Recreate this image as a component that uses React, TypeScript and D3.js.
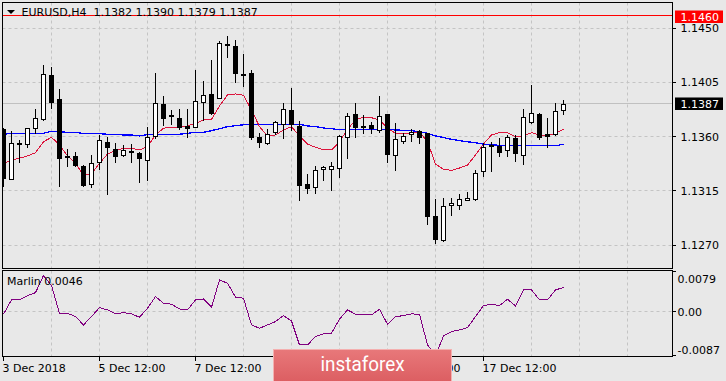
import React from 'react';
import * as d3 from 'd3';

const W = 726;
const H = 381;

// OHLC per H4 bar
const opens = [1.13664, 1.13248, 1.13545, 1.13537, 1.13674, 1.13744, 1.14110, 1.13912, 1.13440, 1.13440,
  1.13358, 1.13206, 1.13388, 1.13554, 1.13498, 1.13443, 1.13482, 1.13463, 1.13407, 1.13606,
  1.13870, 1.13775, 1.13752, 1.13689, 1.13678, 1.13885, 1.13953, 1.13918, 1.14370, 1.14350,
  1.14120, 1.14124, 1.13595, 1.13545, 1.13636, 1.13705, 1.13821, 1.13691, 1.13210, 1.13181,
  1.13331, 1.13331, 1.13339, 1.13595, 1.13785, 1.13690, 1.13697, 1.13655, 1.13788, 1.13443,
  1.13567, 1.13622, 1.13647, 1.13628, 1.12938, 1.12740, 1.13033, 1.13035, 1.13073, 1.13082,
  1.13316, 1.13520, 1.13521, 1.13488, 1.13587, 1.13443, 1.13723, 1.13788, 1.13620, 1.13622,
  1.13820];
const highs = [1.13670, 1.13647, 1.13573, 1.13672, 1.13829, 1.14193, 1.14180, 1.13995, 1.13498, 1.13473,
  1.13362, 1.13446, 1.13614, 1.13595, 1.13545, 1.13531, 1.13540, 1.13470, 1.13683, 1.14124,
  1.13937, 1.13821, 1.13829, 1.13829, 1.14152, 1.14061, 1.14234, 1.14392, 1.14433, 1.14400,
  1.14282, 1.14152, 1.13628, 1.13664, 1.13732, 1.13881, 1.14000, 1.13732, 1.13291, 1.13352,
  1.13352, 1.13393, 1.13610, 1.13794, 1.13876, 1.13780, 1.13724, 1.13937, 1.13790, 1.13716,
  1.13628, 1.13664, 1.13655, 1.13630, 1.13085, 1.13090, 1.13090, 1.13126, 1.13137, 1.13325,
  1.13550, 1.13556, 1.13587, 1.13614, 1.13614, 1.13827, 1.14028, 1.13794, 1.13757, 1.13876,
  1.13900];
const lows = [1.13193, 1.13245, 1.13393, 1.13510, 1.13633, 1.13740, 1.13840, 1.13186, 1.13352, 1.13352,
  1.13192, 1.13178, 1.13333, 1.13124, 1.13393, 1.13440, 1.13393, 1.13220, 1.13236, 1.13587,
  1.13697, 1.13703, 1.13664, 1.13600, 1.13678, 1.13738, 1.13790, 1.13918, 1.14257, 1.14055,
  1.14022, 1.13578, 1.13517, 1.13540, 1.13622, 1.13587, 1.13655, 1.13071, 1.13132, 1.13132,
  1.13236, 1.13153, 1.13261, 1.13426, 1.13595, 1.13628, 1.13633, 1.13641, 1.13393, 1.13319,
  1.13550, 1.13567, 1.13550, 1.12878, 1.12718, 1.12731, 1.12952, 1.13000, 1.13071, 1.13071,
  1.13275, 1.13311, 1.13440, 1.13440, 1.13401, 1.13374, 1.13712, 1.13578, 1.13510, 1.13614,
  1.13790];
const closes = [1.13259, 1.13545, 1.13540, 1.13669, 1.13752, 1.14116, 1.13890, 1.13426, 1.13430, 1.13366,
  1.13195, 1.13380, 1.13573, 1.13510, 1.13435, 1.13490, 1.13471, 1.13421, 1.13595, 1.13876,
  1.13752, 1.13770, 1.13683, 1.13670, 1.13895, 1.13942, 1.13794, 1.14373, 1.14360, 1.14124,
  1.14110, 1.13600, 1.13554, 1.13622, 1.13719, 1.13829, 1.13705, 1.13195, 1.13173, 1.13325,
  1.13344, 1.13352, 1.13606, 1.13774, 1.13683, 1.13680, 1.13670, 1.13774, 1.13457, 1.13578,
  1.13606, 1.13639, 1.13600, 1.12938, 1.12751, 1.13027, 1.13050, 1.13082, 1.13090, 1.13297,
  1.13512, 1.13530, 1.13476, 1.13595, 1.13463, 1.13765, 1.13794, 1.13600, 1.13606, 1.13815,
  1.13870];

// red (fast) moving average
const maFast = [1.13378, 1.13406, 1.13420, 1.13439, 1.13466, 1.13557, 1.13594, 1.13530, 1.13439, 1.13378,
  1.13281, 1.13290, 1.13378, 1.13455, 1.13483, 1.13503, 1.13503, 1.13489, 1.13516, 1.13613,
  1.13669, 1.13677, 1.13675, 1.13688, 1.13710, 1.13737, 1.13743, 1.13853, 1.13945, 1.13953,
  1.13942, 1.13820, 1.13682, 1.13605, 1.13613, 1.13654, 1.13682, 1.13605, 1.13538, 1.13511,
  1.13489, 1.13489, 1.13557, 1.13659, 1.13737, 1.13760, 1.13756, 1.13737, 1.13669, 1.13627,
  1.13621, 1.13632, 1.13640, 1.13557, 1.13372, 1.13329, 1.13319, 1.13339, 1.13364, 1.13447,
  1.13538, 1.13613, 1.13632, 1.13632, 1.13599, 1.13605, 1.13632, 1.13613, 1.13605, 1.13627,
  1.13660];
// blue (slow) moving average
const maSlow = [1.13619, 1.13627, 1.13627, 1.13627, 1.13627, 1.13627, 1.13644, 1.13640, 1.13635, 1.13635,
  1.13624, 1.13624, 1.13624, 1.13619, 1.13619, 1.13613, 1.13613, 1.13605, 1.13616, 1.13616,
  1.13616, 1.13616, 1.13619, 1.13627, 1.13635, 1.13635, 1.13649, 1.13665, 1.13682, 1.13690,
  1.13698, 1.13698, 1.13698, 1.13698, 1.13698, 1.13698, 1.13702, 1.13702, 1.13688, 1.13682,
  1.13671, 1.13665, 1.13657, 1.13657, 1.13660, 1.13660, 1.13660, 1.13660, 1.13660, 1.13654,
  1.13652, 1.13649, 1.13640, 1.13627, 1.13605, 1.13592, 1.13577, 1.13566, 1.13557, 1.13549,
  1.13538, 1.13530, 1.13528, 1.13528, 1.13528, 1.13528, 1.13528, 1.13524, 1.13524, 1.13524,
  1.13536];
// Marlin oscillator
const marlin = [-0.00054, 0.00221, 0.00221, 0.00304, 0.00361, 0.00688, 0.00496, -0.00035, -0.00035, -0.00100,
  -0.00259, -0.00100, 0.00073, 0.00029, -0.00048, -0.00023, -0.00048, -0.00111, 0.00061, 0.00284,
  0.00158, 0.00138, 0.00048, 0.00029, 0.00221, 0.00240, 0.00081, 0.00605, 0.00542, 0.00273,
  0.00254, -0.00259, -0.00323, -0.00259, -0.00196, -0.00081, -0.00183, -0.00644, -0.00644, -0.00484,
  -0.00432, -0.00419, -0.00150, 0.00029, -0.00052, -0.00054, -0.00067, 0.00042, -0.00246, -0.00100,
  -0.00081, -0.00048, -0.00054, -0.00644, -0.00850, -0.00471, -0.00388, -0.00355, -0.00311, -0.00100,
  0.00111, 0.00138, 0.00111, 0.00234, 0.00106, 0.00413, 0.00413, 0.00221, 0.00221, 0.00413,
  0.00460];

const priceTicks = [1.1450, 1.1405, 1.1360, 1.1315, 1.1270];
const marlinTickValues = [0.0079, 0, -0.0087];
const marlinTickLabels = ['0.0079', '0.00', '-0.0087'];
const dateLabels = ['3 Dec 2018', '5 Dec 12:00', '7 Dec 12:00', '11 Dec 12:00', '13 Dec 12:00', '17 Dec 12:00'];
const dateLabelBars = [0, 12, 24, 36, 48, 60];
const gridBars = [6, 12, 18, 24, 30, 36, 42, 48, 54, 60, 66, 72, 78];
const titleText = 'EURUSD,H4  1.1382 1.1390 1.1379 1.1387';
const levelLine = 1.1460;
const lastPrice = 1.1387;
const indicatorName = 'Marlin 0.0046';
const watermark = 'instaforex';

const FONT = "'DejaVu Sans', Tahoma, sans-serif";
const BG = '#e8e8e8';
const GRID = '#c4c4c4';

export default function App() {
  React.useEffect(() => {
    document.body.style.margin = '0';
  }, []);

  const main = { left: 2.5, right: 672.5, top: 2.5, bottom: 268.5 };
  const ind = { left: 2.5, right: 672.5, top: 270.5, bottom: 356.5 };

  const x = d3.scaleLinear().domain([0, 1]).range([3.5, 11.5]);
  const y = d3.scaleLinear().domain([1.1270, 1.1450]).range([245.1, 28.0]);
  const yi = d3.scaleLinear().domain([-0.0087, 0.0079]).range([356.7, 270.3]);

  const idx = d3.range(opens.length);
  const fastLine = d3.line<number>().x((i) => x(i)).y((i) => y(maFast[i]));
  const slowLine = d3.line<number>().x((i) => x(i)).y((i) => y(maSlow[i]));
  const marlinLine = d3.line<number>().x((i) => x(i)).y((i) => yi(marlin[i]));

  const crisp = (v: number) => Math.round(v - 0.5) + 0.5;

  return (
    <svg width={W} height={H} style={{ display: 'block', position: 'absolute', left: 0, top: 0 }}
      fontFamily={FONT} fontSize={11}>
      <defs>
        <clipPath id="clipMain">
          <rect x={main.left + 0.5} y={main.top + 0.5} width={main.right - main.left - 1} height={main.bottom - main.top - 1} />
        </clipPath>
        <clipPath id="clipInd">
          <rect x={ind.left + 0.5} y={ind.top + 0.5} width={ind.right - ind.left - 1} height={ind.bottom - ind.top - 1} />
        </clipPath>
        <linearGradient id="wmGrad" x1="0" y1="0" x2="0" y2="1">
          <stop offset="0" stopColor="#e8787a" />
          <stop offset="1" stopColor="#d9585c" />
        </linearGradient>
      </defs>
      <rect x={0} y={0} width={W} height={H} fill={BG} />

      {/* main panel grid */}
      <g clipPath="url(#clipMain)">
        {priceTicks.map((p) => (
          <line key={'hg' + p} x1={main.left} x2={main.right} y1={crisp(y(p))} y2={crisp(y(p))}
            stroke={GRID} strokeDasharray="3,3" />
        ))}
        {gridBars.map((b) => (
          <line key={'vg' + b} x1={crisp(x(b))} x2={crisp(x(b))} y1={main.top} y2={main.bottom}
            stroke={GRID} strokeDasharray="3,3" />
        ))}
        <line x1={main.left} x2={main.right} y1={crisp(y(lastPrice))} y2={crisp(y(lastPrice))} stroke="#c0c0c0" />
        <path d={slowLine(idx) || ''} fill="none" stroke="#0000ff" strokeWidth={1.3} shapeRendering="crispEdges" />
        <path d={fastLine(idx) || ''} fill="none" stroke="#dc143c" strokeWidth={1} shapeRendering="crispEdges" />
        {idx.map((i) => {
          const o = opens[i], c = closes[i];
          const cx = x(i);
          const top = Math.round(y(Math.max(o, c)));
          const bot = Math.round(y(Math.min(o, c)));
          const bull = c >= o;
          return (
            <g key={'c' + i} shapeRendering="crispEdges">
              <line x1={cx} x2={cx} y1={Math.round(y(highs[i]))} y2={Math.round(y(lows[i])) + 1} stroke="#000" />
              <rect x={cx - 2} y={top + 0.5} width={4} height={Math.max(0, bot - top)}
                fill={bull ? '#ffffff' : '#000000'} stroke="#000" strokeWidth={1} />
            </g>
          );
        })}
        <line x1={main.left} x2={main.right} y1={crisp(y(levelLine))} y2={crisp(y(levelLine))} stroke="#ff0000" />
      </g>

      {/* title */}
      <path d="M7,10 L15,10 L11,14 Z" fill="#000" />
      <text x={21.5} y={16} fill="#000" style={{ whiteSpace: 'pre' }}>{titleText}</text>

      {/* indicator panel */}
      <g clipPath="url(#clipInd)">
        <line x1={ind.left} x2={ind.right} y1={crisp(yi(0))} y2={crisp(yi(0))} stroke={GRID} strokeDasharray="3,3" />
        {gridBars.map((b) => (
          <line key={'vgi' + b} x1={crisp(x(b))} x2={crisp(x(b))} y1={ind.top} y2={ind.bottom}
            stroke={GRID} strokeDasharray="3,3" />
        ))}
        <path d={marlinLine(idx) || ''} fill="none" stroke="#800080" strokeWidth={1} shapeRendering="crispEdges" />
      </g>
      <text x={7} y={285} fill="#000">{indicatorName}</text>

      {/* panel borders */}
      <rect x={main.left} y={main.top} width={main.right - main.left} height={main.bottom - main.top}
        fill="none" stroke="#000" shapeRendering="crispEdges" />
      <rect x={ind.left} y={ind.top} width={ind.right - ind.left} height={ind.bottom - ind.top}
        fill="none" stroke="#000" shapeRendering="crispEdges" />

      {/* price axis */}
      {priceTicks.map((p) => (
        <g key={'pt' + p}>
          <line x1={673} x2={676} y1={crisp(y(p))} y2={crisp(y(p))} stroke="#000" />
          <text x={680.5} y={y(p) + 4} fill="#000">{p.toFixed(4)}</text>
        </g>
      ))}
      <rect x={675} y={10.5} width={48} height={12.5} fill="#ff0000" />
      <text x={680.5} y={y(levelLine) + 5} fill="#ffffff">{levelLine.toFixed(4)}</text>
      <rect x={675} y={y(lastPrice) - 6.5} width={48} height={12.5} fill="#000000" />
      <text x={680.5} y={y(lastPrice) + 4} fill="#ffffff">{lastPrice.toFixed(4)}</text>

      {/* indicator axis */}
      {marlinTickValues.map((v, k) => {
        const ty = k === 0 ? yi(v) + 9 : k === 2 ? yi(v) - 7 : yi(v) + 0.5;
        return (
          <g key={'mt' + k}>
            <line x1={673} x2={676} y1={crisp(yi(v) + (k === 0 ? 1 : k === 2 ? -1 : 0))}
              y2={crisp(yi(v) + (k === 0 ? 1 : k === 2 ? -1 : 0))} stroke="#000" />
            <text x={k === 1 ? 677.5 : 677.5} y={ty + 4} fill="#000">{marlinTickLabels[k]}</text>
          </g>
        );
      })}

      {/* time axis */}
      {dateLabelBars.map((b, k) => (
        <g key={'dt' + b}>
          <line x1={crisp(x(b))} x2={crisp(x(b))} y1={357} y2={361} stroke="#000" />
          <text x={x(b) - 1} y={372} fill="#000">{dateLabels[k]}</text>
        </g>
      ))}

      {/* watermark */}
      <rect x={273.5} y={349.5} width={178} height={40} fill="url(#wmGrad)" stroke="#f4b0b0" strokeWidth={1} />
      <text x={362.5} y={371} fill="#ffffff" fontFamily="Roboto, 'Open Sans', sans-serif" fontSize={20}
        textAnchor="middle" textLength={84} lengthAdjust="spacingAndGlyphs">{watermark}</text>
    </svg>
  );
}
